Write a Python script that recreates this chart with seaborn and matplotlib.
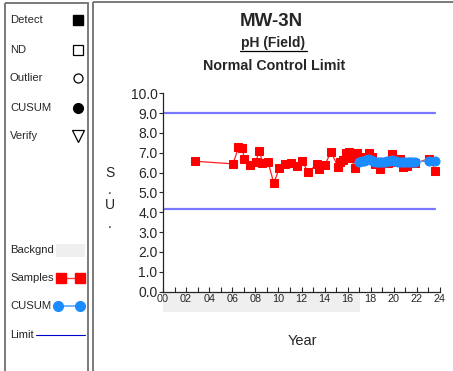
import matplotlib
matplotlib.use("Agg")
import matplotlib.pyplot as plt
from matplotlib.patches import Rectangle
from matplotlib.ticker import MultipleLocator, FuncFormatter
import matplotlib.transforms as mtransforms
import pandas as pd
import seaborn as sns

# Sample data (year after 2000, pH)
sample_years = [2.80, 6.07, 6.54, 6.82, 7.06, 7.52, 8.04, 8.36, 8.62, 9.11, 9.60,
                10.09, 10.56, 11.05, 11.57, 12.03, 12.58, 13.36, 13.50, 14.00,
                14.57, 15.18, 15.33, 15.62, 15.85, 16.10, 16.34, 16.60, 16.83,
                17.12, 17.47, 17.81, 18.13, 18.39, 18.80, 19.26, 19.50, 19.81,
                20.24, 20.53, 20.82, 21.11, 21.40, 21.83, 23.08, 23.60]
sample_ph = [6.57, 6.44, 7.28, 7.26, 6.71, 6.37, 6.55, 7.11, 6.49, 6.52, 5.46,
             6.25, 6.44, 6.49, 6.35, 6.59, 6.02, 6.44, 6.18, 6.39,
             7.03, 6.27, 6.52, 6.61, 6.97, 7.06, 6.76, 6.22, 7.01,
             6.81, 6.72, 6.99, 6.77, 6.44, 6.17, 6.47, 6.50, 6.94,
             6.55, 6.69, 6.29, 6.34, 6.50, 6.47, 6.71, 6.10]

# CUSUM series
cusum_years = [17.0, 17.2, 17.4, 17.6, 17.8, 18.0, 18.2, 18.4, 18.6, 18.8, 19.0,
               19.2, 19.4, 19.6, 19.8, 20.0, 20.2, 20.4, 20.6, 20.8, 21.0, 21.2,
               21.4, 21.6, 21.8, 23.08, 23.6]
cusum_ph = [6.55, 6.56, 6.58, 6.62, 6.68, 6.62, 6.58, 6.55, 6.55, 6.54, 6.55,
            6.55, 6.56, 6.58, 6.63, 6.58, 6.56, 6.55, 6.55, 6.55, 6.55, 6.55,
            6.55, 6.55, 6.55, 6.57, 6.56]

# control limits and background period
upper_limit = 8.99
lower_limit = 4.15
limit_end = 23.6
bg_start = 0.0
bg_end = 17.07

legend_items = ["Detect", "ND", "Outlier", "CUSUM", "Verify"]
legend_items2 = ["Backgnd", "Samples", "CUSUM", "Limit"]

sns.set_style("ticks")
plt.rcParams["font.family"] = ["Liberation Sans", "DejaVu Sans"]

W, H = 453, 371
fig = plt.figure(figsize=(W / 100, H / 100), dpi=100)

# overlay in pixel coords for panels / legend
over = fig.add_axes([0, 0, 1, 1])
over.set_xlim(0, W)
over.set_ylim(H, 0)
over.axis("off")
over.add_patch(Rectangle((5, 3), 83, 380, fill=False, ec="#707070", lw=1.3))
over.add_patch(Rectangle((93, 2), 370, 380, fill=False, ec="#707070", lw=1.3))

fs_leg = 8.1
ys = [20, 50, 78, 108, 136]
for lab, y in zip(legend_items, ys):
    over.text(10, y, lab, fontsize=fs_leg, va="center", ha="left")
over.plot(78, 20, marker="s", color="black", ms=6.5)
over.plot(78, 50, marker="s", mfc="white", mec="black", ms=6.5, mew=0.9)
over.plot(78, 78, marker="o", mfc="white", mec="black", ms=6.5, mew=0.9)
over.plot(78, 108, marker="o", color="black", ms=7)
over.plot(78, 136, marker="v", mfc="white", mec="black", ms=8, mew=0.9)

ys2 = [250, 278, 306, 335]
for lab, y in zip(legend_items2, ys2):
    over.text(10, y, lab, fontsize=fs_leg, va="center", ha="left")
over.add_patch(Rectangle((56, 244), 29, 13, color="#efefef", lw=0))
over.plot([61, 80], [278, 278], color="#ff4040", lw=1, marker="s", ms=6.5, mfc="red", mec="red")
over.plot([58, 80], [306, 306], color="#55aaff", lw=1.2, marker="o", ms=7, mfc="#1a8cff", mec="#1a8cff")
over.plot([36, 85], [335, 335], color="#0000cc", lw=0.8)

# titles
over.text(271, 21, "MW-3N", fontsize=13.5, fontweight="bold", ha="center", va="center")
over.text(273, 43, "pH (Field)", fontsize=10, fontweight="bold", ha="center", va="center")
over.plot([240, 307], [50.5, 50.5], color="black", lw=0.9)
over.text(274, 66, "Normal Control Limit", fontsize=10.3, fontweight="bold", ha="center", va="center")
for t, y in zip(["S", ".", "U", "."], [173, 190, 205, 224]):
    over.text(110, y, t, fontsize=10, ha="center", va="center")
over.text(302, 341, "Year", fontsize=10.5, ha="center", va="center")

# main axes
ax = fig.add_axes([163 / W, 1 - 291.5 / H, 277 / W, 198.2 / H])
ax.set_xlim(0, 24)
ax.set_ylim(0, 10)

# background shading below the axis
trans = mtransforms.blended_transform_factory(ax.transData, ax.transAxes)
ax.add_patch(Rectangle((bg_start, -0.105), bg_end - bg_start, 0.1, transform=trans,
                       color="#efefef", lw=0, clip_on=False, zorder=0))

ax.plot([0, limit_end], [upper_limit, upper_limit], color="#7777ff", lw=1.6)
ax.plot([0, limit_end], [lower_limit, lower_limit], color="#7777ff", lw=1.6)

samples = pd.DataFrame({"year": sample_years, "ph": sample_ph})
cusum = pd.DataFrame({"year": cusum_years, "ph": cusum_ph})
sns.lineplot(data=samples, x="year", y="ph", ax=ax, color="#ff2020", lw=0.9,
             marker="s", markersize=6.3, markerfacecolor="red", markeredgecolor="red",
             sort=False, zorder=3)
sns.lineplot(data=cusum, x="year", y="ph", ax=ax, color="#55aaff", lw=1,
             marker="o", markersize=6.5, markerfacecolor="#1a8cff",
             markeredgecolor="#1a8cff", sort=False, zorder=4)

ax.set_xlabel("")
ax.set_ylabel("")
sns.despine(ax=ax)
ax.spines["left"].set_linewidth(0.9)
ax.spines["bottom"].set_linewidth(0.9)
ax.xaxis.set_major_locator(MultipleLocator(2))
ax.xaxis.set_minor_locator(MultipleLocator(1))
ax.xaxis.set_major_formatter(FuncFormatter(lambda v, p: f"{int(v):02d}"))
ax.yaxis.set_major_locator(MultipleLocator(1))
ax.yaxis.set_major_formatter(FuncFormatter(lambda v, p: f"{v:.1f}"))
ax.tick_params(axis="x", which="both", direction="in", length=3.5, width=0.8,
               labelsize=7.8, pad=2)
ax.tick_params(axis="y", direction="out", length=3, width=0.8, labelsize=10, pad=1)

fig.savefig("out.png", dpi=100)
